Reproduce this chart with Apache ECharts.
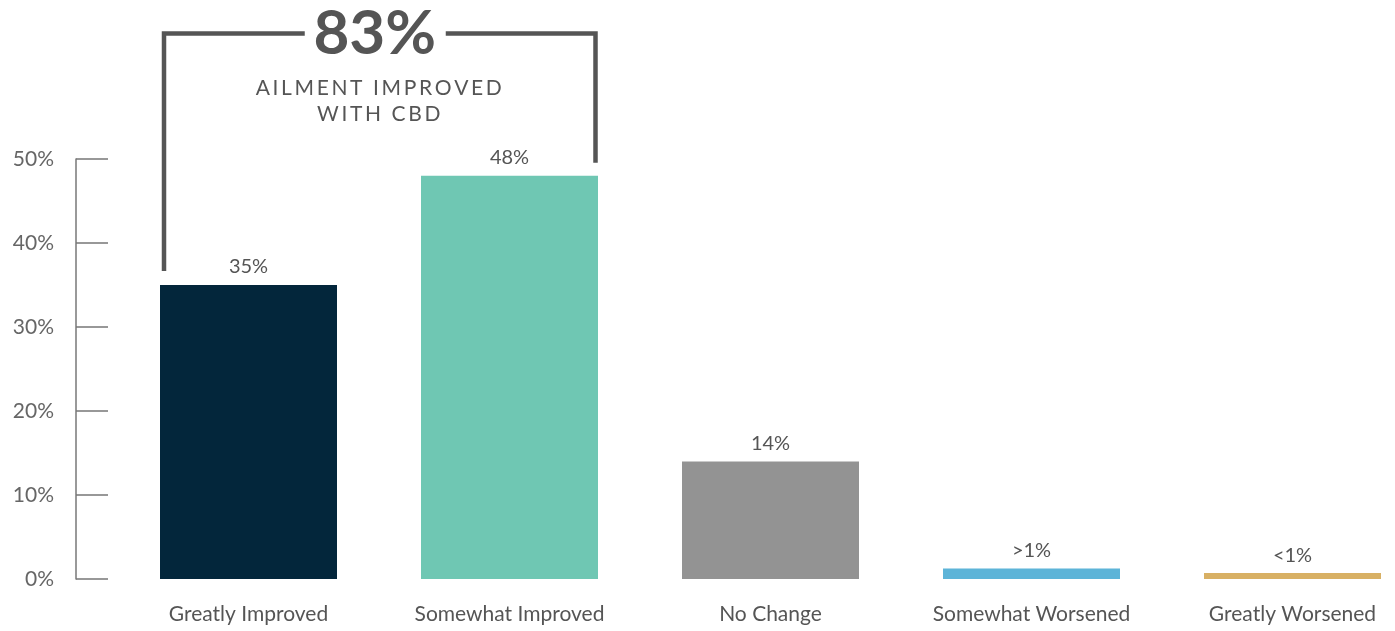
<!DOCTYPE html>
<html>
<head>
<meta charset="utf-8">
<script src="https://cdn.jsdelivr.net/npm/echarts@6/dist/echarts.min.js"></script>
<style>
html,body{margin:0;padding:0;background:#fff;}
#chart{width:1395px;height:631px;}
</style>
</head>
<body>
<div id="chart"></div>
<script>
const categories = ['Greatly Improved', 'Somewhat Improved', 'No Change', 'Somewhat Worsened', 'Greatly Worsened'];
const values = [35, 48, 14, 1.25, 0.7];
const valueLabels = ['35%', '48%', '14%', '>1%', '<1%'];
const barColors = ['#03263b', '#6fc7b3', '#939393', '#5db4d8', '#d8b064'];
const yMin = 0, yMax = 50, yInterval = 10;
const bracketValue = '83%';
const bracketText = ['AILMENT IMPROVED', 'WITH CBD'];
const bracketFrom = 0, bracketTo = 1;

const FONT = 'Lato, "Open Sans", sans-serif';
const spaced = s => s.split('').join('\u200A\u200A');

const chart = echarts.init(document.getElementById('chart'), null, {renderer: 'canvas'});
const BAR_W = 177;

chart.setOption({
  animation: false,
  grid: {left: 118, top: 159, right: -28, bottom: 52, containLabel: false, outerBoundsMode: 'none'},
  xAxis: {
    type: 'category',
    data: categories,
    axisLine: {show: false},
    axisTick: {show: false},
    axisLabel: {color: '#555', fontSize: 21, fontFamily: FONT, margin: 25, interval: 0}
  },
  yAxis: {
    type: 'value',
    min: yMin, max: yMax, interval: yInterval,
    offset: 42,
    axisLine: {show: true, lineStyle: {color: '#777', width: 1.5}},
    axisTick: {show: true, inside: true, length: 32, lineStyle: {color: '#777', width: 1.5}},
    splitLine: {show: false},
    axisLabel: {color: '#666', fontSize: 21, fontFamily: FONT, margin: 22, formatter: v => v + '%'}
  },
  series: [{
    type: 'bar',
    barWidth: BAR_W,
    data: values.map((v, i) => ({value: v, itemStyle: {color: barColors[i]}})),
    label: {
      show: true, position: 'top', distance: 8,
      color: '#555', fontSize: 20, fontFamily: FONT,
      formatter: p => valueLabels[p.dataIndex]
    }
  }]
});

function drawBracket() {
  const p0 = chart.convertToPixel({xAxisIndex: 0, yAxisIndex: 0}, [bracketFrom, values[bracketFrom]]);
  const p1 = chart.convertToPixel({xAxisIndex: 0, yAxisIndex: 0}, [bracketTo, values[bracketTo]]);
  const xL = p0[0] - BAR_W / 2 + 4;
  const xR = p1[0] + BAR_W / 2 - 2.5;
  const yTop = 33.5;
  const yL = p0[1] - 14;
  const yR = p1[1] - 13;
  const midX = (xL + xR) / 2 - 4;
  const ls = {stroke: '#555', lineWidth: 4.5};
  chart.setOption({
    graphic: [
      {type: 'polyline', shape: {points: [[xL, yL], [xL, yTop], [midX - 71, yTop]]}, style: ls, silent: true},
      {type: 'polyline', shape: {points: [[midX + 70, yTop], [xR, yTop], [xR, yR]]}, style: ls, silent: true},
      {type: 'text', x: midX - 1, y: yTop, style: {text: bracketValue, fill: '#555', font: 'bold 62px ' + FONT, align: 'center', verticalAlign: 'middle'}, silent: true},
      {type: 'text', x: midX + 3, y: 88, style: {text: spaced(bracketText[0]), fill: '#555', font: '21px ' + FONT, align: 'center', verticalAlign: 'middle'}, silent: true},
      {type: 'text', x: midX + 3, y: 114, style: {text: spaced(bracketText[1]), fill: '#555', font: '21px ' + FONT, align: 'center', verticalAlign: 'middle'}, silent: true}
    ]
  });
}
drawBracket();
</script>
</body>
</html>
